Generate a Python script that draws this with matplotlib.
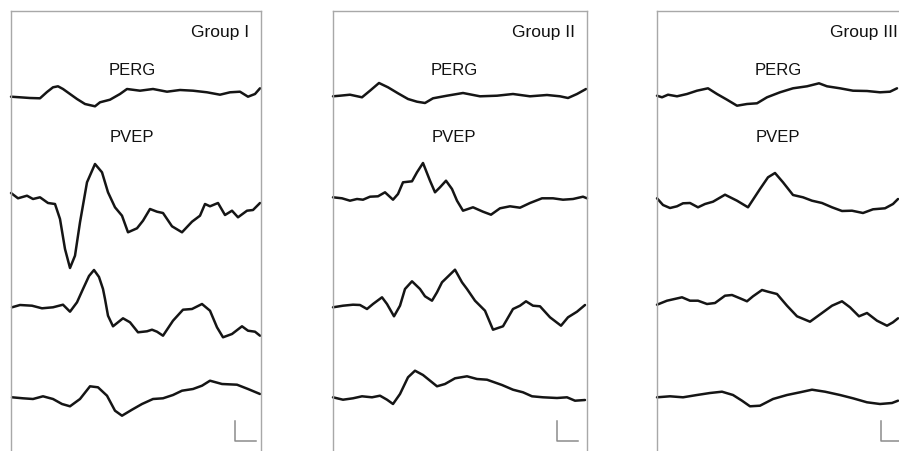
import matplotlib.pyplot as plt

# Time axis in ms from sweep onset, amplitude in uV (positive = up)
GROUPS = ["Group I", "Group II", "Group III"]
ROW_LABELS = ["PERG", "PVEP"]

# ---- Group I ----
g1_perg_t = [0, 9, 19, 29, 36, 42, 47, 52, 59, 66, 74, 84, 89, 99, 109, 116, 129, 142,
             156, 169, 182, 196, 209, 219, 229, 237, 244, 249]
g1_perg_v = [-0.7, -1.3, -2.0, -2.3, 4.0, 8.7, 9.7, 7.0, 2.0, -3.0, -8.0, -10.3, -6.3,
             -3.7, 2.0, 7.0, 5.3, 7.0, 4.3, 6.0, 5.3, 3.7, 1.3, 3.7, 4.3, -0.7, 2.0, 7.7]

g1_pvep1_t = [0, 7, 16, 22, 29, 37, 44, 49, 54, 59, 64, 69, 76, 84, 91, 97, 104, 111,
              117, 126, 132, 139, 146, 152, 161, 171, 181, 189, 194, 199, 207, 214, 221,
              227, 236, 242, 249]
g1_pvep1_v = [6.0, 0.7, 3.3, 0.0, 1.7, -4.0, -5.0, -20.0, -50.0, -69.0, -56.7, -23.3,
              16.7, 35.0, 26.7, 6.7, -8.3, -16.7, -33.3, -29.3, -21.7, -10.0, -12.7, -14.0,
              -27.3, -33.3, -22.7, -16.7, -5.0, -7.3, -4.0, -16.0, -11.7, -18.3, -11.7,
              -11.0, -4.0]

g1_pvep2_t = [1, 9, 21, 31, 42, 52, 59, 66, 72, 78, 83, 88, 92, 94, 97, 102, 112, 119,
              127, 136, 141, 146, 152, 162, 172, 181, 191, 199, 206, 212, 221, 231, 237,
              244, 249]
g1_pvep2_v = [-0.3, 2.0, 1.3, -1.3, -0.3, 2.3, -4.7, 4.7, 18.0, 31.0, 37.0, 30.0, 18.0,
              8.0, -8.7, -19.3, -11.3, -15.3, -25.3, -24.3, -22.7, -24.7, -28.7, -13.7,
              -2.7, -2.0, 3.0, -3.7, -20.3, -30.3, -27.0, -19.3, -23.7, -24.7, -28.7]

g1_pvep3_t = [1, 12, 22, 32, 42, 51, 59, 69, 79, 87, 96, 104, 111, 121, 131, 142, 152,
              162, 171, 182, 191, 199, 211, 226, 237, 249]
g1_pvep3_v = [-0.3, -1.3, -2.0, 0.7, -2.0, -7.0, -9.3, -2.0, 10.7, 9.7, 1.3, -13.7,
              -18.7, -12.7, -7.0, -2.0, -1.3, 2.0, 6.3, 8.0, 11.3, 16.3, 13.0, 12.3, 8.0, 3.0]

# ---- Group II ----
g2_perg_t = [0, 7, 17, 29, 37, 46, 55, 65, 75, 84, 92, 100, 114, 130, 147, 164, 180,
             197, 214, 227, 235, 244, 253]
g2_perg_v = [-0.3, 0.3, 1.3, -1.3, 5.3, 13.0, 8.7, 2.7, -3.0, -5.7, -7.0, -2.3, 0.3,
             3.0, -0.3, 0.3, 2.0, -0.3, 1.0, -0.3, -2.0, 2.0, 7.0]

g2_pvep1_t = [0, 9, 17, 24, 30, 37, 45, 52, 60, 65, 70, 79, 84, 90, 97, 102, 107, 113,
              119, 124, 130, 140, 150, 158, 167, 177, 187, 197, 209, 220, 230, 240, 250, 254]
g2_pvep1_v = [1.7, 0.7, -1.7, 0.0, -0.7, 2.3, 2.7, 6.7, -0.7, 5.0, 16.7, 17.7, 26.7,
              36.0, 18.3, 6.7, 11.7, 18.3, 10.0, -1.7, -11.7, -8.3, -12.7, -15.7, -9.3,
              -7.3, -8.7, -4.0, 0.7, 0.7, -0.7, 0.0, 2.3, 0.7]

g2_pvep2_t = [0, 10, 20, 27, 34, 40, 49, 54, 61, 67, 72, 79, 87, 92, 99, 104, 109, 122,
              129, 134, 142, 152, 160, 170, 180, 187, 193, 200, 207, 217, 228, 235, 244, 252]
g2_pvep2_v = [-0.3, 1.3, 2.3, 2.0, -2.0, 3.0, 9.7, 3.0, -9.3, 1.3, 18.0, 25.7, 18.0,
              10.7, 6.3, 14.7, 24.7, 37.3, 24.7, 18.0, 6.3, -3.7, -22.7, -19.3, -2.0, 1.3,
              5.7, 1.3, 0.7, -10.3, -18.7, -10.3, -4.7, 2.0]

g2_pvep3_t = [0, 10, 20, 29, 39, 47, 54, 60, 67, 75, 82, 90, 104, 112, 122, 134, 144,
              154, 169, 180, 190, 199, 210, 224, 234, 242, 252]
g2_pvep3_v = [-0.3, -2.7, -1.3, 0.7, -0.3, 1.3, -2.7, -7.0, 3.0, 19.7, 26.3, 22.0, 10.7,
              13.0, 18.7, 20.7, 18.0, 17.3, 12.0, 7.3, 4.7, 0.7, -0.3, -1.0, -0.3, -3.7, -3.0]

# ---- Group III ----
g3_perg_t = [0, 5, 11, 20, 30, 40, 51, 60, 70, 80, 90, 100, 110, 123, 136, 150, 162,
             170, 183, 196, 210, 223, 233, 240]
g3_perg_v = [0.3, -1.3, 1.3, -0.3, 2.0, 5.3, 7.7, 2.0, -3.7, -9.7, -8.0, -7.3, -1.3,
             3.7, 7.7, 9.7, 12.7, 9.7, 7.7, 5.3, 5.0, 3.7, 4.3, 7.7]

g3_pvep1_t = [0, 6, 13, 20, 26, 33, 41, 48, 56, 68, 80, 91, 103, 111, 118, 126, 136,
              146, 155, 165, 175, 185, 195, 206, 216, 228, 236, 241]
g3_pvep1_v = [0.7, -6.0, -9.0, -7.3, -4.3, -4.0, -8.3, -5.0, -2.7, 4.3, -1.7, -8.3,
              10.0, 21.7, 26.0, 16.7, 4.0, 1.7, -1.7, -4.0, -8.3, -12.0, -11.7, -14.0,
              -10.3, -9.3, -5.0, 0.0]

g3_pvep2_t = [0, 10, 25, 33, 41, 50, 58, 68, 75, 83, 90, 96, 105, 111, 120, 130, 140,
              153, 165, 175, 185, 193, 202, 210, 220, 230, 236, 241]
g3_pvep2_v = [2.3, 6.3, 9.7, 6.3, 6.3, 3.0, 4.0, 11.3, 12.0, 8.7, 5.7, 10.7, 17.0, 15.3,
              13.0, 1.3, -9.3, -14.7, -6.0, 1.3, 5.7, -0.3, -9.3, -6.0, -13.7, -18.7,
              -15.3, -11.3]

g3_pvep3_t = [0, 13, 26, 40, 53, 65, 76, 85, 93, 103, 116, 130, 143, 155, 168, 183, 196,
              210, 223, 235, 241]
g3_pvep3_v = [-0.3, 0.7, -0.3, 2.0, 4.0, 5.3, 2.0, -3.7, -9.3, -8.7, -2.0, 2.0, 4.7,
              7.3, 5.3, 2.0, -1.3, -5.3, -7.0, -6.0, -3.7]

TRACES = [
    [(g1_perg_t, g1_perg_v), (g1_pvep1_t, g1_pvep1_v), (g1_pvep2_t, g1_pvep2_v), (g1_pvep3_t, g1_pvep3_v)],
    [(g2_perg_t, g2_perg_v), (g2_pvep1_t, g2_pvep1_v), (g2_pvep2_t, g2_pvep2_v), (g2_pvep3_t, g2_pvep3_v)],
    [(g3_perg_t, g3_perg_v), (g3_pvep1_t, g3_pvep1_v), (g3_pvep2_t, g3_pvep2_v), (g3_pvep3_t, g3_pvep3_v)],
]

# layout (pixels on a 899x452 canvas)
FIG_W, FIG_H = 899, 452
PANEL_LEFT = [11, 333, 657]
PANEL_WIDTH = [250, 254, 253]
PANEL_TOP = 12
ROW_BASE = [97, 200, 308, 398]   # vertical position of each trace's baseline
TRACE_COLOR = "#151515"
FRAME_COLOR = "#a8a8a8"

plt.rcParams["font.family"] = ["Liberation Sans", "DejaVu Sans"]

fig = plt.figure(figsize=(FIG_W / 100, FIG_H / 100), dpi=100)

for i, group in enumerate(GROUPS):
    left = PANEL_LEFT[i]
    width = PANEL_WIDTH[i]
    ax = fig.add_axes([left / FIG_W, 0, width / FIG_W, (FIG_H - PANEL_TOP) / FIG_H])
    ax.set_xlim(0, width)
    ax.set_ylim(FIG_H, PANEL_TOP)

    for (t, v), base in zip(TRACES[i], ROW_BASE):
        y = [base - a for a in v]
        ax.plot(t, y, color=TRACE_COLOR, lw=1.8, solid_joinstyle="round",
                solid_capstyle="round", clip_on=False)

    ax.text(width - 12, 37, group, ha="right", va="baseline", fontsize=12.5, color="#111")
    ax.text(121, 74.5, ROW_LABELS[0], ha="center", va="baseline", fontsize=12, color="#111")
    ax.text(121, 141.5, ROW_LABELS[1], ha="center", va="baseline", fontsize=12, color="#111")

    # calibration bar
    ax.plot([224, 224, 245], [422, 442, 442], color="#8c8c8c", lw=1.1)

    for side in ["top", "left", "right"]:
        ax.spines[side].set_color(FRAME_COLOR)
        ax.spines[side].set_linewidth(1.0)
    ax.spines["bottom"].set_visible(False)
    ax.set_xticks([])
    ax.set_yticks([])

fig.savefig("out.png", dpi=100)
plt.close(fig)
